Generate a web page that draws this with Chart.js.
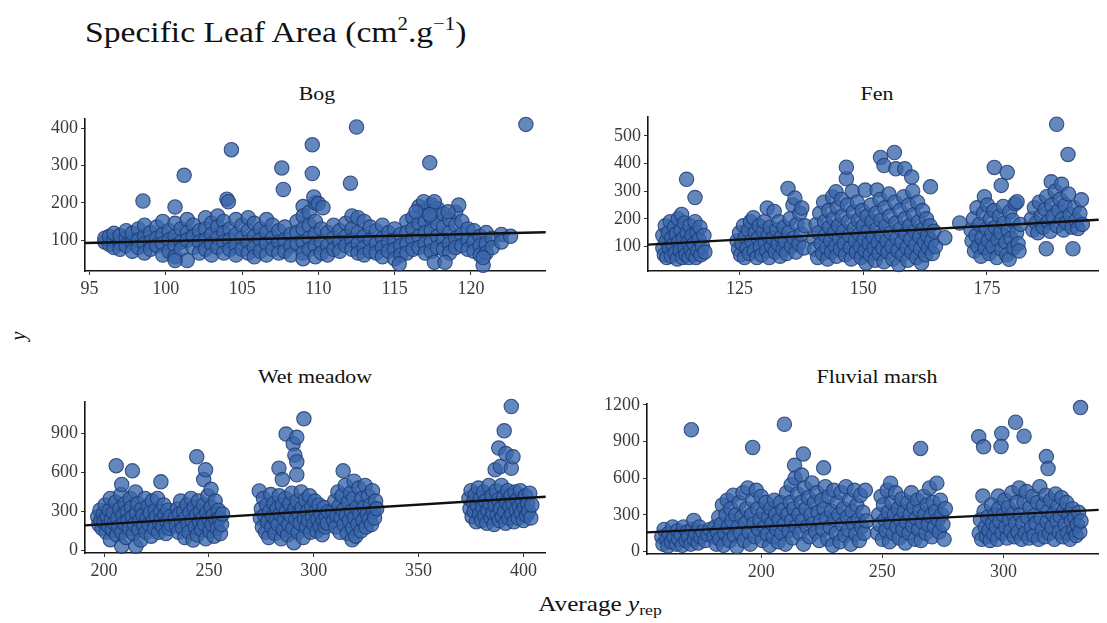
<!DOCTYPE html>
<html>
<head>
<meta charset="utf-8">
<script src="https://cdn.jsdelivr.net/npm/chart.js@4.4.0/dist/chart.umd.min.js"></script>
<style>
  html, body { margin: 0; padding: 0; background: #fff; }
  #page { position: relative; width: 1107px; height: 623px; overflow: hidden; background: #fff;
          font-family: "Liberation Serif", "Times New Roman", serif; color: #111; }
  .panel { position: absolute; }
  .lbl { position: absolute; white-space: nowrap; line-height: 1; }
  .facet { position: absolute; width: 300px; text-align: center; line-height: 1; font-size: 19px; color: #111;
           transform: scaleX(1.15); transform-origin: 50% 50%; }
  .sup { font-size: 0.62em; position: relative; top: -0.62em; }
</style>
</head>
<body>
<div id="page">
  <div class="lbl" style="left:85px;top:17px;font-size:30px;transform:scaleX(1.12);transform-origin:0 50%;">Specific Leaf Area (cm<span class="sup">2</span>.g<span class="sup">&#8722;1</span>)</div>

  <div class="facet" style="left:167px;top:84px;">Bog</div>
  <div class="facet" style="left:727px;top:84px;">Fen</div>
  <div class="facet" style="left:165px;top:367px;">Wet meadow</div>
  <div class="facet" style="left:727px;top:367px;">Fluvial marsh</div>

  <div class="lbl" style="left:8px;top:326px;font-size:20px;font-style:italic;transform:rotate(-90deg);transform-origin:50% 50%;width:20px;text-align:center;">y</div>
  <div class="lbl" style="left:450px;top:594px;width:300px;text-align:center;font-size:21px;transform:scaleX(1.2);transform-origin:50% 50%;">Average <i>y</i><span style="font-size:0.7em;position:relative;top:0.3em;">rep</span></div>

  <div class="panel" id="pBog"></div>
  <div class="panel" id="pFen"></div>
  <div class="panel" id="pWet"></div>
  <div class="panel" id="pFlu"></div>
</div>

<script>
// ---- Bog: [average y_rep, observed y] ----
const bogPts = [
  [96.0,95],[96.0,105],[96.3,88],[96.3,110],[96.6,100],[96.6,80],[96.6,118],
  [97.0,92],[97.0,112],[97.0,75],[97.4,105],[97.4,85],[97.4,125],[97.8,95],[97.8,118],[97.8,70],
  [98.2,130],[98.2,100],[98.2,80],[98.6,110],[98.6,140],[98.6,90],[98.6,65],
  [99.0,120],[99.0,95],[99.0,75],[99.4,135],[99.4,105],[99.4,85],[99.8,150],[99.8,115],[99.8,90],[99.8,60],
  [100.2,125],[100.2,100],[100.2,70],[100.6,145],[100.6,110],[100.6,85],[100.6,55],
  [101.0,130],[101.0,95],[101.0,75],[101.4,155],[101.4,120],[101.4,100],[101.4,45],
  [101.8,140],[101.8,110],[101.8,80],[102.2,125],[102.2,95],[102.2,65],
  [102.6,160],[102.6,130],[102.6,100],[102.6,75],[103.0,145],[103.0,115],[103.0,90],[103.0,60],
  [103.4,165],[103.4,135],[103.4,105],[103.4,80],[103.8,150],[103.8,120],[103.8,95],[103.8,65],
  [104.2,130],[104.2,100],[104.2,75],[104.6,155],[104.6,115],[104.6,85],[104.6,60],
  [105.0,140],[105.0,105],[105.0,75],[105.4,160],[105.4,125],[105.4,95],[105.4,65],
  [105.8,145],[105.8,110],[105.8,80],[105.8,55],[106.2,130],[106.2,100],[106.2,70],
  [106.6,155],[106.6,120],[106.6,90],[106.6,60],[107.0,140],[107.0,105],[107.0,75],
  [107.4,125],[107.4,95],[107.4,65],[107.8,135],[107.8,100],[107.8,70],
  [108.2,115],[108.2,85],[108.2,60],[108.6,150],[108.6,120],[108.6,90],
  [109.0,190],[109.0,165],[109.0,130],[109.0,95],[109.0,65],[109.0,50],
  [109.4,175],[109.4,140],[109.4,105],[109.4,75],[109.8,200],[109.8,150],[109.8,115],[109.8,85],[109.8,55],
  [110.2,130],[110.2,95],[110.2,65],[110.6,120],[110.6,85],[110.6,60],
  [111.0,140],[111.0,105],[111.0,75],[111.4,125],[111.4,95],[111.4,70],[111.8,145],[111.8,110],[111.8,85],
  [112.2,165],[112.2,130],[112.2,100],[112.2,75],[112.6,160],[112.6,120],[112.6,90],[112.6,65],
  [113.0,150],[113.0,110],[113.0,80],[113.0,60],[113.4,135],[113.4,100],[113.4,70],
  [113.8,125],[113.8,90],[113.8,65],[114.2,140],[114.2,105],[114.2,80],[114.2,55],
  [114.6,120],[114.6,95],[114.6,70],[115.0,130],[115.0,100],[115.0,75],[115.0,50],
  [115.4,115],[115.4,85],[115.4,60],[115.8,150],[115.8,120],[115.8,90],[115.8,65],
  [116.2,160],[116.2,130],[116.2,100],[116.2,75],[116.6,190],[116.6,145],[116.6,110],[116.6,80],
  [117.0,180],[117.0,150],[117.0,120],[117.0,90],[117.0,65],
  [117.4,195],[117.4,160],[117.4,125],[117.4,95],[117.4,70],
  [117.8,185],[117.8,145],[117.8,110],[117.8,80],[118.2,170],[118.2,135],[118.2,100],[118.2,75],
  [118.6,155],[118.6,120],[118.6,90],[118.6,65],[119.0,175],[119.0,140],[119.0,105],[119.0,80],
  [119.4,150],[119.4,115],[119.4,85],[119.8,130],[119.8,100],[119.8,75],
  [120.2,125],[120.2,95],[120.2,70],[120.6,110],[120.6,85],[120.6,60],
  [121.0,120],[121.0,90],[121.0,65],[121.4,105],[121.4,80],[122.0,115],[122.0,95],[122.6,110],
  [98.5,205],[100.6,189],[101.2,274],[104.3,343],[104.0,210],[104.1,203],[107.6,294],[107.7,236],
  [109.6,356],[109.6,279],[109.7,216],[110.0,198],[110.3,187],[112.5,404],[112.1,253],[117.3,308],
  [123.6,411],[116.9,203],[117.6,203],[116.4,176],[119.2,194],[118.5,176],[117.3,168],
  [117.6,40],[118.3,40],[120.8,32],[120.8,53],[115.3,36],[100.6,45]
];

// ---- Fen ----
const fenPts = [
  [109.5,95],[109.5,140],[109.8,70],[110,175],[110.2,120],[110.3,60],[110.6,150],[110.8,95],[111,190],
  [111.2,65],[111.3,130],[111.6,105],[111.8,170],[112,75],[112.2,145],[112.4,55],[112.6,200],[112.7,115],
  [113,85],[113.2,160],[113.3,216],[113.5,60],[113.7,130],[113.9,185],[114,95],[114.2,70],[114.4,150],
  [114.6,115],[114.8,60],[115,175],[115.2,90],[115.4,140],[115.6,70],[115.8,110],[116,190],[116.2,60],
  [116.4,150],[116.6,85],[116.8,125],[117,170],[117.2,70],[117.5,100],[117.8,140],[118,80],
  [114.3,343],[116,277],
  [124.5,120],[124.8,90],[125,150],[125.2,70],[125.5,110],[125.8,175],[126,60],[126.2,135],[126.5,95],
  [126.8,160],[127,75],[127.2,190],[127.5,120],[127.8,204],[128,85],[128.2,150],[128.5,60],[128.8,130],
  [129,175],[129.2,100],[129.5,70],[129.8,155],[130,190],[130.2,115],[130.6,239],[130.5,85],[130.8,140],
  [131,60],[131.2,170],[131.5,100],[132,227],[131.8,130],[132.2,80],[132.5,160],[132.8,110],[133,190],
  [133.2,65],[133.5,135],[133.8,90],[134,170],[134.2,120],[134.8,310],[134.5,75],[135,150],[135.2,200],
  [135.5,100],[135.8,250],[136,130],[136.2,275],[136.4,80],[136.6,180],[137,110],[137.2,220],[137.6,239],
  [137.5,145],[138,95],[138.2,175],
  [140,130],[140.2,90],[140.5,180],[140.8,60],[141,150],[141.2,220],[141.5,110],[141.8,75],[142,260],
  [142.2,190],[142.4,140],[142.6,95],[142.8,55],[143,230],[143.2,170],[143.4,120],[143.6,80],[143.8,280],
  [144,200],[144.2,150],[144.5,298],[144.4,100],[144.6,65],[144.8,240],[145,175],[145.2,130],[145.4,90],
  [145.6,270],[145.8,210],[146,155],[146.2,110],[146.4,70],[146.6,345],[146.6,387],[146.8,250],[147,190],
  [147.2,140],[147.4,95],[147.6,55],[147.8,300],[148,225],[148.2,165],[148.4,120],[148.6,80],[148.8,260],
  [149,195],[149.2,145],[149.4,100],[149.6,60],[149.8,230],[150,175],[150.2,125],[150.4,304],[150.4,85],
  [150.6,40],[150.8,210],[151,155],[151.2,110],[151.4,70],[151.6,250],[151.8,190],[152,135],[152.2,95],
  [152.4,50],[152.8,304],[152.6,220],[152.8,165],[153,115],[153.2,75],[153.5,422],[153.4,270],[153.6,195],
  [153.8,140],[154,95],[154.2,393],[154.2,45],[154.4,240],[154.6,175],[154.8,120],[155,80],[155.2,290],
  [155.4,210],[155.6,150],[155.8,100],[156,55],[156.3,440],[156.6,381],[156.4,260],[156.6,185],[156.8,130],
  [157,85],[157.2,35],[157.4,230],[157.6,165],[157.8,115],[158,70],[158.4,381],[158.2,280],[158.4,200],
  [158.6,145],[158.8,95],[159,50],[159.2,250],[159.4,175],[159.8,351],[159.6,125],[159.8,80],[160,300],
  [160.2,215],[160.4,155],[160.6,105],[160.8,60],[161,260],[161.2,190],[161.4,135],[161.6,90],[161.8,40],
  [162,230],[162.2,165],[162.4,115],[162.6,70],[162.8,200],[163,140],[163.2,95],[163.6,316],[163.5,175],
  [163.8,120],[164,75],[164.3,155],[164.6,100],[166.5,132],[169.5,185],
  [171.8,160],[172,120],[172.3,200],[172.5,84],[172.8,140],[173,240],[173.2,100],[173.5,180],[173.8,65],
  [174,130],[174.3,220],[174.5,280],[174.6,95],[174.9,165],[175.1,250],[175.3,120],[175.5,75],[175.7,200],
  [176,145],[176.2,100],[176.5,386],[176.4,230],[176.7,170],[177,60],[177.2,125],[177.5,210],[177.9,321],
  [177.8,150],[178,90],[178.3,245],[178.5,185],[178.8,115],[179.1,368],[179,70],[179.3,160],[179.5,54],
  [179.6,225],[179.9,130],[180.2,195],[180.4,95],[180.7,255],[181,150],[181.1,262],[181.3,110],[181.5,84],
  [181.8,180],
  [184,200],[184.3,160],[184.6,240],[185,185],[185.3,150],[185.6,260],[186,210],[186.4,170],[186.8,235],
  [187,92],[187.1,280],[187.4,190],[187.8,155],[188,334],[188.1,250],[188.4,210],[188.8,300],[189.1,542],
  [189.2,175],[189.5,230],[189.8,270],[190.1,325],[190.2,200],[190.5,160],[190.8,250],[191.1,185],
  [191.4,433],[191.5,290],[191.8,215],[192.2,170],[192.4,92],[192.6,240],[193,195],[193.4,165],
  [193.8,220],[194.1,269],[194.3,180]
];

// ---- Wet meadow ----
const wetPts = [
  [197,260],[197.5,200],[198,310],[198.5,230],[199,170],[199.5,280],[200,220],[200.5,350],[201,140],
  [201.5,260],[202,190],[202.5,310],[203,83],[203,400],[203.5,240],[204,160],[204.5,290],[205,210],
  [205.8,652],[205.5,370],[206,120],[206.5,250],[207,180],[207.5,320],[208,430],[208.4,507],[208.4,33],
  [208.5,140],[209,270],[209.5,210],[210,360],[210.5,100],[211,300],[211.5,230],[212,170],[212.5,400],
  [213.5,612],[213,330],[213.5,260],[214,130],[214.5,200],[215.2,33],[215,450],[215.5,290],[216,360],
  [216.5,160],[217,230],[217.5,80],[218,320],[218.5,270],[219,190],[219.5,400],[220,140],[220.5,250],
  [221,340],[221.5,200],[222,290],[222.5,110],[223,380],[223.5,230],[224,170],[224.5,310],[225,260],
  [225.5,400],[226,140],[226.5,210],[227.1,528],[227,300],[227.5,240],[228,180],[228.5,350],[229,270],
  [229.5,130],[230,220],[230.5,310],[231,170],[231.5,260],[232,200],
  [234,250],[234.5,190],[235,320],[235.5,140],[236,280],[236.5,380],[237,220],[237.5,170],[238,300],
  [238.5,100],[239,250],[239.5,350],[240,200],[240.5,140],[241,290],[241.5,400],[242,230],[242.5,80],
  [243,330],[243.5,180],[244.2,720],[244,270],[244.5,120],[245,380],[245.5,220],[246,300],[246.5,160],
  [247,250],[247.5,545],[247.5,350],[248.4,620],[248,200],[248.5,90],[249,290],[249.5,420],[250,240],
  [250.5,150],[251,470],[251,330],[251.5,200],[252,270],[252.5,110],[253,380],[253.5,230],[254,170],
  [254.5,310],[255,250],[255.5,130],[256,200],[256.5,280],
  [274,457],[274.5,250],[275,320],[275.5,180],[276,400],[276.5,270],[277,140],[277.5,350],[278,220],
  [278.5,100],[279,300],[279.5,430],[280,180],[280.5,260],[281,360],[281.5,130],[282,230],[282.5,320],
  [283.4,632],[283,200],[283.5,420],[284,280],[284.5,90],[285,545],[285,350],[285.5,160],[286,240],
  [286.8,895],[286.5,400],[287,300],[287.5,120],[288,200],[288.5,360],[289,270],[289.5,440],[290.2,820],
  [290,170],[290.5,60],[291,732],[291,320],[291.5,240],[291.9,870],[291.9,682],[291.9,582],[292,380],
  [292.5,140],[293,280],[293.5,210],[294,450],[294.5,330],[295.3,1012],[295,100],[295.5,250],[296,390],
  [296.5,180],[297,300],[297.5,230],[298,420],[298.5,140],[299,340],[299.5,260],[300,200],[300.5,380],
  [301,300],[301.5,150],[302,240],[302.5,350],[303,190],[303.5,280],[304,120],[304.5,230],[305,330],
  [305.5,180],[306,260],[306.5,210],[307,300],
  [309,300],[309.5,230],[310,380],[310.5,180],[311,270],[311.5,450],[312,340],[312.5,140],[313,250],
  [313.5,420],[314,612],[314,310],[314.5,200],[315,500],[315.5,270],[316,130],[316.5,370],[317,230],
  [317.5,440],[318.3,82],[318,300],[318.5,170],[319.2,532],[319,400],[319.5,250],[320,110],[320.5,330],
  [321,200],[321.5,480],[322,280],[322.5,150],[323,400],[323.5,230],[324,330],[324.5,500],[325,180],
  [325.5,280],[326,420],[326.5,240],[327,350],[327.5,200],[328,460],[328.5,300],[329,250],[329.5,380],
  [330,320],
  [374,400],[374.5,320],[375,460],[375.5,260],[376,370],[376.5,300],[377,430],[377.5,220],[378,350],
  [378.5,480],[379,280],[379.5,400],[380,230],[380.5,330],[381,450],[381.5,270],[382,380],[382.5,210],
  [383,310],[383.5,500],[384,360],[384.5,250],[385,420],[385.5,290],[386.5,620],[386,200],[386.5,350],
  [387,460],[387.5,270],[388.2,787],[388,390],[388.5,230],[389,645],[389,320],[389.5,500],[390,260],
  [390.8,920],[390.5,410],[391,300],[391.6,745],[391.5,210],[392,370],[392.5,460],[393,250],[393.5,340],
  [394.2,1107],[394.2,632],[394,420],[394.5,280],[395,720],[395,360],[395.5,220],[396,450],[396.5,310],
  [397,390],[397.5,250],[398,340],[398.5,460],[399,290],[399.5,380],[400,230],[400.5,330],[401,420],
  [401.5,270],[402,360],[402.5,300],[403,440],[403.5,250],[404,350]
];

// ---- Fluvial marsh ----
const fluPts = [
  [159,120],[159.5,60],[160,180],[161,100],[161.5,45],[162,150],[163,80],[163.5,200],[164,120],[165,60],
  [165.5,170],[166,100],[167,140],[167.5,50],[168,200],[169,90],[169.5,160],[170,120],[171,60],[171.2,996],
  [171.5,180],[172.2,254],[172.5,100],[173,150],[174,70],[174.5,200],[175,120],[176,160],[177,90],
  [178,140],[179,180],
  [180.5,120],[181,200],[181.5,60],[182,160],[182.5,280],[183,100],[183.5,220],[184,380],[184.5,50],
  [185,150],[185.5,300],[186,420],[186.5,200],[187,90],[187.5,350],[188,250],[188.5,460],[189,130],
  [189.5,300],[190,40],[190.5,200],[191,400],[191.5,150],[192,280],[192.5,480],[193,90],[193.5,230],
  [194,350],[194.5,520],[195,160],[195.5,60],[196,300],[196.5,851],[196.5,420],[197,230],[197.5,120],
  [198,500],[198.5,350],[199,180],[199.5,260],[200,450],[200.5,90],[201,320],[201.5,200],[202,400],
  [202.5,140],[203,280],[203.5,50],[204,350],[204.5,230],[205,120],[205.5,420],[206,300],[206.5,180],
  [207,80],[207.5,260],[208,400],[208.5,150],[209,340],[209.6,1041],[209.5,220],[210,60],[210.5,480],
  [211,300],[211.5,170],[212,400],[212.4,546],[212.5,250],[213,110],[213.5,350],[213.8,705],[214,600],
  [214.5,200],[215,470],[215.5,300],[216,150],[216.7,625],[216.5,400],[217,250],[217.4,798],[217.5,60],
  [218,520],[218.5,350],[219,200],[219.5,440],[220,120],[220.5,300],[221,560],[221.5,230],[222,400],
  [222.5,160],[223,480],[223.5,320],[224,90],[224.5,250],[225,420],[225.8,684],[225.5,180],[226,350],
  [226.5,530],[227,270],[227.5,100],[228,450],[228.5,200],[229,330],[229.5,50],[230,500],[230.5,260],
  [231,150],[231.5,400],[232,300],[232.5,80],[233,480],[233.5,220],[234,350],[234.5,130],[235,530],
  [235.5,280],[236,180],[236.5,420],[237,60],[237.5,330],[238,230],[238.5,500],[239,140],[239.5,380],
  [240,260],[240.5,90],[241,460],[241.5,200],[242,320],[242.5,150],[243,500],[243.5,250],
  [248,150],[248.5,300],[249,220],[249.5,450],[250,100],[250.5,380],[251,260],[251.5,170],[252,500],
  [252.5,320],[253,80],[253.4,559],[253.5,230],[254,400],[254.5,150],[255,300],[255.5,480],[256,200],
  [256.5,350],[257,110],[257.5,260],[258,430],[258.5,180],[259,320],[259.5,70],[260,240],[260.5,400],
  [261,150],[261.5,300],[262,480],[262.5,210],[263,360],[263.5,100],[264,270],[264.5,420],[265,180],
  [265.8,843],[265.5,330],[266,90],[266.5,240],[267,450],[267.5,300],[268,150],[268.5,380],[269,220],
  [269.5,520],[270,290],[270.5,120],[271,400],[271.5,200],[272.5,559],[272,330],[273,260],[273.5,160],
  [274,420],[274.5,300],[275,220],[275.5,100],[276,350],
  [289.8,938],[291.8,856],[299.3,965],[299,859],[305,1057],[308.5,943],[317.7,776],[318.4,678],
  [331.8,1177],[291.5,453],[297.9,453],
  [290,150],[290.5,260],[291,100],[292,330],[292.5,200],[293,120],[293.5,280],[294,170],[294.5,90],
  [295,380],[295.5,230],[296,140],[296.5,300],[297,200],[297.5,100],[298,350],[298.5,250],[299.5,150],
  [300,300],[300.5,420],[301,200],[301.5,110],[302,360],[302.5,260],[303,170],[303.5,480],[304,310],
  [304.5,120],[305,230],[305.5,400],[306,160],[306.5,520],[307,300],[307.5,100],[308,230],[308.5,400],
  [309,150],[309.5,490],[310,280],[310.5,110],[311,360],[311.5,200],[312,450],[312.5,130],[313,300],
  [313.5,230],[314,400],[314.5,100],[315,530],[315.5,270],[316,180],[316.5,380],[317,120],[317.5,460],
  [318,240],[318.5,330],[319,150],[319.5,420],[320,200],[320.5,300],[321,100],[321.5,470],[322,250],
  [322.5,370],[323,160],[323.5,290],[324,440],[324.5,120],[325,340],[325.5,220],[326,400],[326.5,150],
  [327,300],[327.5,100],[328,250],[328.5,350],[329,180],[329.5,280],[330,130],[330.5,220],[331,320],
  [331.5,160],[332,250]
];

// fitted straight lines (end points at the panel limits)
const bogFitX = [94.7, 124.9],  bogFitY = [92, 121];
const fenFitX = [106.5, 197.6], fenFitY = [107, 197];
const wetFitX = [190.9, 410.6], wetFitY = [193, 413];
const fluFitX = [152.9, 339.3], fluFitY = [156, 340];

// tick labels
const bogXTicks = [95, 100, 105, 110, 115, 120], bogYTicks = [100, 200, 300, 400];
const fenXTicks = [125, 150, 175],               fenYTicks = [100, 200, 300, 400, 500];
const wetXTicks = [200, 250, 300, 350, 400],     wetYTicks = [0, 300, 600, 900];
const fluXTicks = [200, 250, 300],               fluYTicks = [0, 300, 600, 900, 1200];

// axis limits
const bogXLim = [94.7, 124.9],  bogYLim = [16.8, 426];
const fenXLim = [106.5, 197.6], fenYLim = [11.5, 569];
const wetXLim = [190.9, 410.6], wetYLim = [-19.5, 1143];
const fluXLim = [152.9, 339.3], fluYLim = [-20.7, 1208];

const AXIS_W = 60, PAD_T = 10, AXIS_H = 36;
const tickFont = { family: 'Liberation Serif', size: 18 };

function panelScale(lim, ticks, isX) {
  return {
    type: 'linear',
    min: lim[0], max: lim[1],
    afterBuildTicks: s => { s.ticks = ticks.map(v => ({ value: v })); },
    afterFit: s => { if (isX) s.height = AXIS_H; else s.width = AXIS_W; },
    grid: { display: true, drawOnChartArea: false, drawTicks: true, tickLength: 4, color: '#333', lineWidth: 1 },
    border: { display: true, color: '#151515', width: 1.6 },
    ticks: { font: tickFont, color: '#3a3a3a', padding: 3, maxRotation: 0, autoSkip: false,
             callback: v => String(v) }
  };
}

function drawPanel(id, box, pts, fitX, fitY, xLim, yLim, xTicks, yTicks, padR) {
  const el = document.getElementById(id);
  el.style.left = (box.l - AXIS_W) + 'px';
  el.style.top = (box.t - PAD_T) + 'px';
  el.style.width = (box.r - box.l + AXIS_W + padR) + 'px';
  el.style.height = (box.b - box.t + PAD_T + AXIS_H) + 'px';
  const cv = document.createElement('canvas');
  el.appendChild(cv);
  new Chart(cv, {
    type: 'scatter',
    data: {
      datasets: [
        {
          type: 'line',
          data: fitX.map((x, i) => ({ x: x, y: fitY[i] })),
          borderColor: '#111', borderWidth: 2.4, pointRadius: 0, fill: false,
          order: 0, clip: false
        },
        {
          data: pts.map(p => ({ x: p[0], y: p[1] })),
          pointRadius: 7.2,
          backgroundColor: 'rgba(56,102,170,0.78)',
          borderColor: 'rgba(30,60,118,0.85)',
          borderWidth: 1.1,
          order: 1, clip: false
        }
      ]
    },
    options: {
      responsive: true, maintainAspectRatio: false, animation: false,
      layout: { padding: { top: PAD_T, right: padR, left: 0, bottom: 0 } },
      plugins: { legend: { display: false }, tooltip: { enabled: false } },
      scales: { x: panelScale(xLim, xTicks, true), y: panelScale(yLim, yTicks, false) }
    }
  });
}

drawPanel('pBog', { l: 85, t: 115, r: 546, b: 271 }, bogPts, bogFitX, bogFitY, bogXLim, bogYLim, bogXTicks, bogYTicks, 8);
drawPanel('pFen', { l: 648, t: 113, r: 1107, b: 271 }, fenPts, fenFitX, fenFitY, fenXLim, fenYLim, fenXTicks, fenYTicks, 0);
drawPanel('pWet', { l: 85, t: 398, r: 546, b: 553 }, wetPts, wetFitX, wetFitY, wetXLim, wetYLim, wetXTicks, wetYTicks, 8);
drawPanel('pFlu', { l: 647, t: 400, r: 1107, b: 554 }, fluPts, fluFitX, fluFitY, fluXLim, fluYLim, fluXTicks, fluYTicks, 0);
</script>
</body>
</html>
